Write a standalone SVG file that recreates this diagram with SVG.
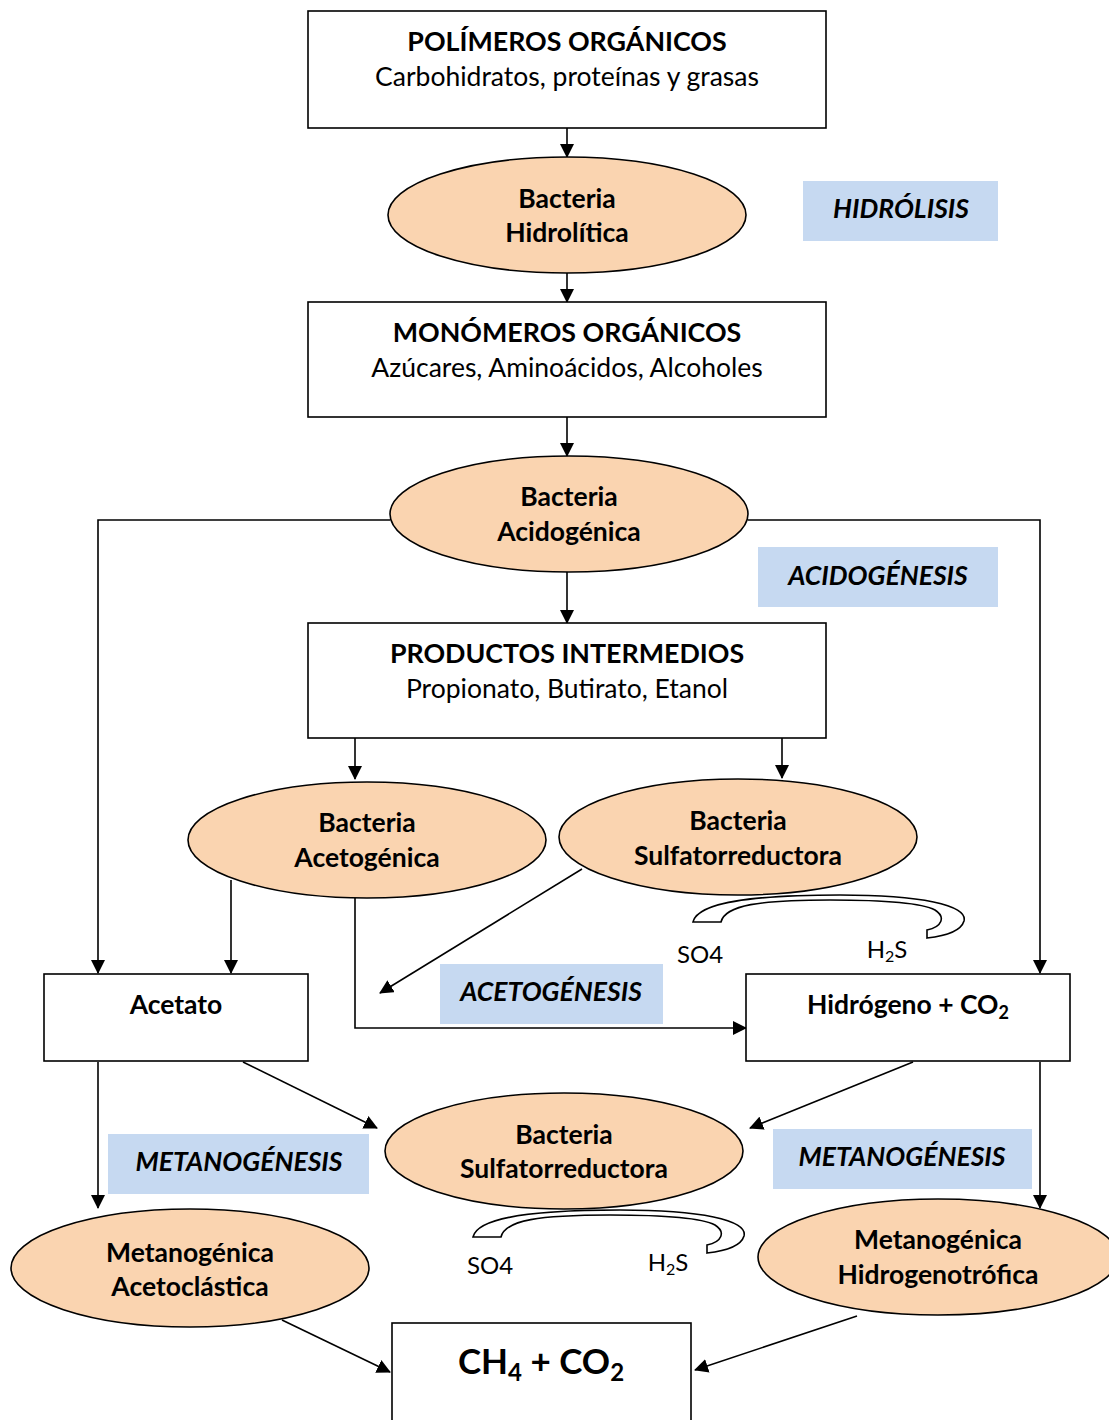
<svg xmlns="http://www.w3.org/2000/svg" width="1109" height="1420" viewBox="0 0 1109 1420">
<style>
.box{fill:#fff;stroke:#000;stroke-width:1.6}
.ell{fill:#fad4b0;stroke:#000;stroke-width:1.6}
.lab{fill:#c6d9f1}
.t{font-family:Lato,"Open Sans",sans-serif;fill:#000;text-anchor:middle}
.b{font-weight:bold}
.hd{font-size:26.8px;font-weight:bold}
.sub{font-size:26.5px}
.et{font-size:26.5px;font-weight:bold}
.li{font-size:26.5px;font-weight:bold;font-style:italic}
.sm{font-size:24px}
.c{fill:none;stroke:#000;stroke-width:1.6}
.band{fill:#fff;stroke:#000;stroke-width:1.6}
</style>
<defs>
<marker id="ah" markerUnits="userSpaceOnUse" markerWidth="14" markerHeight="14" viewBox="0 0 14 14" refX="13" refY="7" orient="auto">
<path d="M0,0 L14,7 L0,14 z" fill="#000"/>
</marker>
<path id="bandshape" d="M473,1237 C478,1216 540,1210 620,1210 C700,1210 748,1220 744,1236 C741,1246 725,1251 707,1253 L707,1245 C722,1242 726,1232 715,1225 C700,1217 660,1215 610,1215 C540,1215 505,1220 501,1237 Z"/>
</defs>

<g id="connectors">
<line class="c" x1="567" y1="128" x2="567" y2="157" marker-end="url(#ah)"/>
<line class="c" x1="567" y1="273" x2="567" y2="302" marker-end="url(#ah)"/>
<line class="c" x1="567" y1="417" x2="567" y2="456" marker-end="url(#ah)"/>
<path class="c" d="M390,520 H98 V973" marker-end="url(#ah)"/>
<path class="c" d="M748,520 H1040 V973" marker-end="url(#ah)"/>
<line class="c" x1="567" y1="572" x2="567" y2="623" marker-end="url(#ah)"/>
<line class="c" x1="355" y1="738" x2="355" y2="779" marker-end="url(#ah)"/>
<line class="c" x1="782" y1="738" x2="782" y2="778" marker-end="url(#ah)"/>
<line class="c" x1="231" y1="880" x2="231" y2="973" marker-end="url(#ah)"/>
<path class="c" d="M355,898 V1028 H746" marker-end="url(#ah)"/>
<line class="c" x1="582" y1="869" x2="380" y2="993" marker-end="url(#ah)"/>
<line class="c" x1="98" y1="1062" x2="98" y2="1208" marker-end="url(#ah)"/>
<line class="c" x1="243" y1="1062" x2="377" y2="1128" marker-end="url(#ah)"/>
<line class="c" x1="913" y1="1062" x2="750" y2="1128" marker-end="url(#ah)"/>
<line class="c" x1="1040" y1="1062" x2="1040" y2="1208" marker-end="url(#ah)"/>
<line class="c" x1="282" y1="1320" x2="390" y2="1372" marker-end="url(#ah)"/>
<line class="c" x1="857" y1="1316" x2="695" y2="1370" marker-end="url(#ah)"/>
</g>

<g id="polimeros">
<rect class="box" x="308" y="11" width="518" height="117"/>
<text class="t hd" x="567" y="51">POLÍMEROS ORGÁNICOS</text>
<text class="t sub" x="567" y="86">Carbohidratos, proteínas y grasas</text>
</g>

<g id="bact-hidrolitica">
<ellipse class="ell" cx="567" cy="215" rx="179" ry="58"/>
<text class="t et" x="567" y="208">Bacteria</text>
<text class="t et" x="567" y="242">Hidrolítica</text>
</g>

<g id="lab-hidrolisis">
<rect class="lab" x="803" y="181" width="195" height="60"/>
<text class="t li" x="901" y="218">HIDRÓLISIS</text>
</g>

<g id="monomeros">
<rect class="box" x="308" y="302" width="518" height="115"/>
<text class="t hd" x="567" y="342">MONÓMEROS ORGÁNICOS</text>
<text class="t sub" x="567" y="377">Azúcares, Aminoácidos, Alcoholes</text>
</g>

<g id="bact-acidogenica">
<ellipse class="ell" cx="569" cy="514" rx="179" ry="58"/>
<text class="t et" x="569" y="506">Bacteria</text>
<text class="t et" x="569" y="541">Acidogénica</text>
</g>

<g id="lab-acidogenesis">
<rect class="lab" x="758" y="547" width="240" height="60"/>
<text class="t li" x="878" y="585">ACIDOGÉNESIS</text>
</g>

<g id="intermedios">
<rect class="box" x="308" y="623" width="518" height="115"/>
<text class="t hd" x="567" y="663">PRODUCTOS INTERMEDIOS</text>
<text class="t sub" x="567" y="698">Propionato, Butirato, Etanol</text>
</g>

<g id="bact-acetogenica">
<ellipse class="ell" cx="367" cy="840" rx="179" ry="58"/>
<text class="t et" x="367" y="832">Bacteria</text>
<text class="t et" x="367" y="867">Acetogénica</text>
</g>

<g id="bact-sulfato1">
<ellipse class="ell" cx="738" cy="837" rx="179" ry="58"/>
<text class="t et" x="738" y="830">Bacteria</text>
<text class="t et" x="738" y="865">Sulfatorreductora</text>
</g>

<g id="sulfato-loop1">
<use href="#bandshape" class="band" transform="translate(220,-315)"/>
<text class="t sm" x="700" y="963">SO4</text>
<text class="t sm" x="887" y="958">H<tspan font-size="16" dy="4">2</tspan><tspan dy="-4">S</tspan></text>
</g>

<g id="lab-acetogenesis">
<rect class="lab" x="440" y="964" width="223" height="60"/>
<text class="t li" x="551" y="1001">ACETOGÉNESIS</text>
</g>

<g id="acetato">
<rect class="box" x="44" y="974" width="264" height="87"/>
<text class="t et" x="176" y="1014">Acetato</text>
</g>

<g id="hidrogeno">
<rect class="box" x="746" y="974" width="324" height="87"/>
<text class="t et" x="908" y="1014">Hidrógeno + CO<tspan font-size="18" dy="5">2</tspan></text>
</g>

<g id="bact-sulfato2">
<ellipse class="ell" cx="564" cy="1151" rx="179" ry="58"/>
<text class="t et" x="564" y="1144">Bacteria</text>
<text class="t et" x="564" y="1178">Sulfatorreductora</text>
</g>

<g id="lab-metano-left">
<rect class="lab" x="108" y="1134" width="261" height="60"/>
<text class="t li" x="239" y="1171">METANOGÉNESIS</text>
</g>

<g id="lab-metano-right">
<rect class="lab" x="773" y="1129" width="259" height="60"/>
<text class="t li" x="902" y="1166">METANOGÉNESIS</text>
</g>

<g id="sulfato-loop2">
<use href="#bandshape" class="band"/>
<text class="t sm" x="490" y="1274">SO4</text>
<text class="t sm" x="668" y="1271">H<tspan font-size="16" dy="4">2</tspan><tspan dy="-4">S</tspan></text>
</g>

<g id="metano-acetoclastica">
<ellipse class="ell" cx="190" cy="1268" rx="179" ry="59"/>
<text class="t et" x="190" y="1262">Metanogénica</text>
<text class="t et" x="190" y="1296">Acetoclástica</text>
</g>

<g id="metano-hidrogenotrofica">
<ellipse class="ell" cx="938" cy="1257" rx="180" ry="58"/>
<text class="t et" x="938" y="1249">Metanogénica</text>
<text class="t et" x="938" y="1284">Hidrogenotrófica</text>
</g>

<g id="ch4">
<rect class="box" x="392" y="1323" width="299" height="110"/>
<text class="t b" x="541" y="1374" font-size="35">CH<tspan font-size="24" dy="7">4</tspan><tspan dy="-7"> + CO</tspan><tspan font-size="24" dy="7">2</tspan></text>
</g>
</svg>
